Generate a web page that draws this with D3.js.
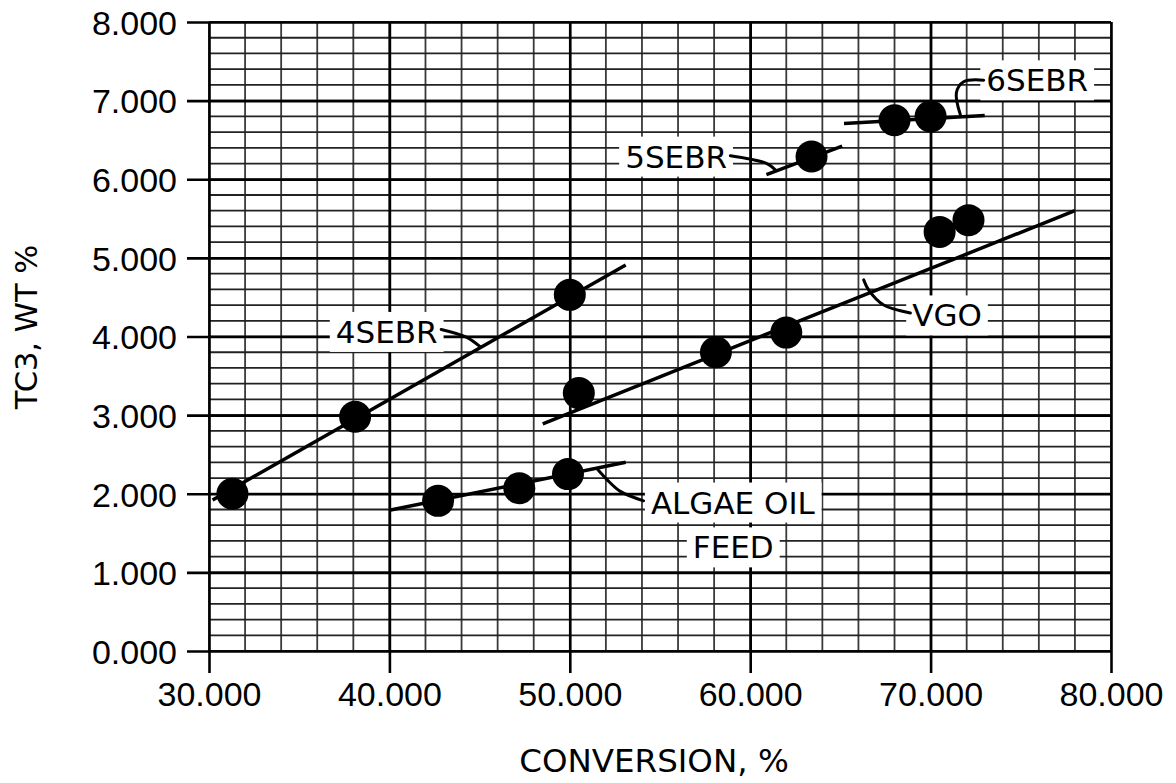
<!DOCTYPE html>
<html>
<head>
<meta charset="utf-8">
<script src="https://cdn.jsdelivr.net/npm/d3@7"></script>
<style>
  html, body { margin: 0; padding: 0; background: #fff; }
  svg { display: block; }
</style>
</head>
<body>
<svg id="chart" width="1176" height="783"></svg>
<script>
// ---- data ----
const xTickValues = [30, 40, 50, 60, 70, 80];
const yTickValues = [0, 1, 2, 3, 4, 5, 6, 7, 8];
const xTitle = "CONVERSION, %";
const yTitle = "TC3, WT %";

const pts4SEBR = [[31.3, 2.00], [38.1, 2.98], [50.0, 4.53]];
const pts5SEBR = [[63.4, 6.29]];
const pts6SEBR = [[68.0, 6.75], [70.0, 6.80]];
const ptsVGO   = [[50.5, 3.28], [58.1, 3.80], [62.0, 4.05], [70.5, 5.33], [72.1, 5.48]];
const ptsAlgae = [[42.7, 1.91], [47.2, 2.07], [49.9, 2.25]];

const fit4SEBR = [[30.2, 1.92], [53.1, 4.91]];
const fit5SEBR = [[60.9, 6.06], [65.1, 6.42]];
const fit6SEBR = [[65.2, 6.71], [73.0, 6.81]];
const fitVGO   = [[48.5, 2.89], [78.0, 5.60]];
const fitAlgae = [[40.0, 1.79], [53.1, 2.40]];

// annotation labels (data coordinates) and their leader curves
const labels = [
  { text: "4SEBR",     at: [39.85, 4.06] },
  { text: "5SEBR",     at: [55.89, 6.29] },
  { text: "6SEBR",     at: [75.91, 7.26] },
  { text: "VGO",       at: [70.91, 4.27] },
  { text: "ALGAE OIL", at: [59.04, 1.89] },
  { text: "FEED",      at: [59.06, 1.32] }
];
const leaders = [
  [[42.87, 4.09], [44.29, 3.99], [45.03, 3.87]],
  [[58.90, 6.30], [60.93, 6.20], [61.39, 6.12]],
  [[72.94, 7.26], [71.83, 7.24], [71.43, 7.10], [71.65, 6.82]],
  [[68.88, 4.30], [67.40, 4.40], [66.57, 4.59], [66.29, 4.72]],
  [[54.09, 1.91], [52.80, 2.03], [52.06, 2.18], [51.50, 2.32]]
];

// ---- layout ----
const svg = d3.select("#chart");
const mLeft = 209, mRight = 1111, mTop = 22, mBottom = 651;
const x = d3.scaleLinear().domain([30, 80]).range([mLeft, mRight]);
const y = d3.scaleLinear().domain([0, 8]).range([mBottom, mTop]);
const tickFont = "'Liberation Sans', Arial, sans-serif";
const labelFont = "'Comic Sans MS', 'DejaVu Sans', sans-serif";

svg.append("rect").attr("width", 1176).attr("height", 783).attr("fill", "#fff");

// minor grid
const xMinor = d3.range(30, 80.001, 2);
const yMinor = d3.range(0, 8.001, 0.2);
const grid = svg.append("g");
grid.selectAll("line.vx").data(xMinor).join("line").attr("class", "vx")
  .attr("x1", d => x(d)).attr("x2", d => x(d))
  .attr("y1", mTop).attr("y2", mBottom)
  .attr("stroke", "#3a3a3a").attr("stroke-width", 1.8);
grid.selectAll("line.hy").data(yMinor).join("line").attr("class", "hy")
  .attr("x1", mLeft).attr("x2", mRight)
  .attr("y1", d => y(d)).attr("y2", d => y(d))
  .attr("stroke", "#222").attr("stroke-width", 1.8);

// major grid via axes
const xAxis = d3.axisBottom(x).tickValues(xTickValues)
  .tickSize(-(mBottom - mTop)).tickFormat(d3.format(".3f"));
const yAxis = d3.axisLeft(y).tickValues(yTickValues)
  .tickSize(-(mRight - mLeft)).tickFormat(d3.format(".3f"));

const gx = svg.append("g").attr("transform", `translate(0,${mBottom})`).call(xAxis);
gx.select(".domain").remove();
gx.selectAll(".tick line").attr("stroke", "#000").attr("stroke-width", 2.6)
  .attr("y1", 22);
gx.selectAll(".tick text").attr("font-family", tickFont).attr("font-size", 34)
  .attr("fill", "#000").attr("y", 31).attr("dy", "0.71em");

const gy = svg.append("g").attr("transform", `translate(${mLeft},0)`).call(yAxis);
gy.select(".domain").remove();
gy.selectAll(".tick line").attr("stroke", "#000").attr("stroke-width", 2.6)
  .attr("x1", -22);
gy.selectAll(".tick text").attr("font-family", tickFont).attr("font-size", 34)
  .attr("fill", "#000").attr("x", -32).attr("dy", "0.36em");

// axis titles
svg.append("text").attr("x", 654).attr("y", 772).attr("text-anchor", "middle")
  .attr("font-family", labelFont).attr("font-size", 32.5).text(xTitle);
svg.append("text").attr("transform", "translate(37,327) rotate(-90)")
  .attr("text-anchor", "middle")
  .attr("font-family", labelFont).attr("font-size", 30.5).text(yTitle);

// label boxes + texts
const lg = svg.append("g");
labels.forEach(l => {
  const t = lg.append("text")
    .attr("x", x(l.at[0])).attr("y", y(l.at[1]))
    .attr("dy", "0.36em").attr("text-anchor", "middle")
    .attr("font-family", labelFont).attr("font-size", 31).attr("fill", "#000")
    .text(l.text);
  const b = t.node().getBBox();
  lg.insert("rect", "text")
    .attr("x", b.x - 6).attr("y", b.y - 2)
    .attr("width", b.width + 12).attr("height", b.height + 4)
    .attr("fill", "#fff");
});

// fit lines
const line = d3.line().x(d => x(d[0])).y(d => y(d[1]));
[fit4SEBR, fit5SEBR, fit6SEBR, fitVGO, fitAlgae].forEach(f => {
  svg.append("path").attr("d", line(f)).attr("fill", "none")
    .attr("stroke", "#000").attr("stroke-width", 3.5);
});

// leaders
const curve = d3.line().x(d => x(d[0])).y(d => y(d[1])).curve(d3.curveCatmullRom);
leaders.forEach(l => {
  svg.append("path").attr("d", curve(l)).attr("fill", "none")
    .attr("stroke", "#000").attr("stroke-width", 3).attr("stroke-linecap", "round");
});

// points
[pts4SEBR, pts5SEBR, pts6SEBR, ptsVGO, ptsAlgae].forEach(s => {
  svg.append("g").selectAll("circle").data(s).join("circle")
    .attr("cx", d => x(d[0])).attr("cy", d => y(d[1])).attr("r", 16)
    .attr("fill", "#000");
});
</script>
</body>
</html>
